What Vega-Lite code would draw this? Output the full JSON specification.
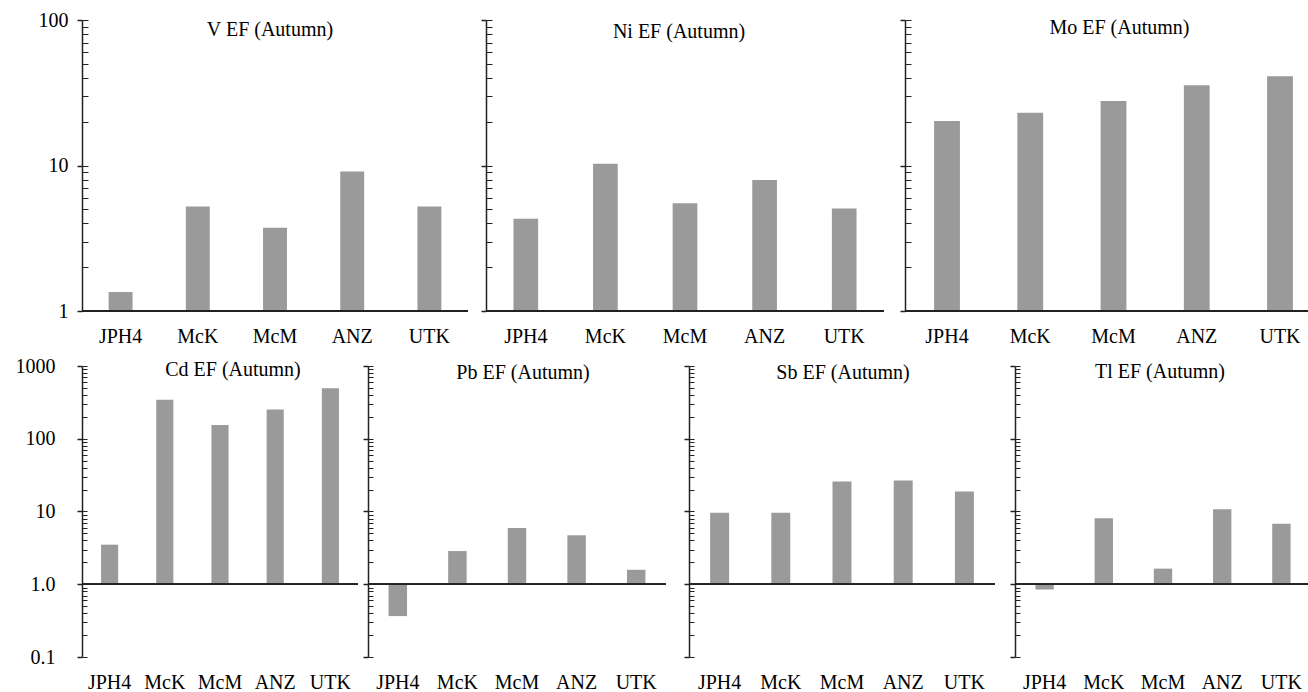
{
  "$schema": "https://vega.github.io/schema/vega-lite/v6.json",
  "padding": {"left": 0, "right": 0, "top": 10, "bottom": 0},
  "background": "white",
  "spacing": 10,
  "datasets": {
    "ef": [
      {"element": "V", "site": "JPH4", "ef": 1.35},
      {"element": "V", "site": "McK", "ef": 5.22},
      {"element": "V", "site": "McM", "ef": 3.74},
      {"element": "V", "site": "ANZ", "ef": 9.08},
      {"element": "V", "site": "UTK", "ef": 5.22},
      {"element": "Ni", "site": "JPH4", "ef": 4.31},
      {"element": "Ni", "site": "McK", "ef": 10.3},
      {"element": "Ni", "site": "McM", "ef": 5.5},
      {"element": "Ni", "site": "ANZ", "ef": 7.95},
      {"element": "Ni", "site": "UTK", "ef": 5.06},
      {"element": "Mo", "site": "JPH4", "ef": 20.2},
      {"element": "Mo", "site": "McK", "ef": 23.0},
      {"element": "Mo", "site": "McM", "ef": 27.8},
      {"element": "Mo", "site": "ANZ", "ef": 35.6},
      {"element": "Mo", "site": "UTK", "ef": 41.1},
      {"element": "Cd", "site": "JPH4", "ef": 3.5},
      {"element": "Cd", "site": "McK", "ef": 344},
      {"element": "Cd", "site": "McM", "ef": 154},
      {"element": "Cd", "site": "ANZ", "ef": 253},
      {"element": "Cd", "site": "UTK", "ef": 493},
      {"element": "Pb", "site": "JPH4", "ef": 0.365},
      {"element": "Pb", "site": "McK", "ef": 2.86},
      {"element": "Pb", "site": "McM", "ef": 5.95},
      {"element": "Pb", "site": "ANZ", "ef": 4.71},
      {"element": "Pb", "site": "UTK", "ef": 1.58},
      {"element": "Sb", "site": "JPH4", "ef": 9.58},
      {"element": "Sb", "site": "McK", "ef": 9.58},
      {"element": "Sb", "site": "McM", "ef": 25.8},
      {"element": "Sb", "site": "ANZ", "ef": 26.7},
      {"element": "Sb", "site": "UTK", "ef": 18.8},
      {"element": "Tl", "site": "JPH4", "ef": 0.85},
      {"element": "Tl", "site": "McK", "ef": 8.07},
      {"element": "Tl", "site": "McM", "ef": 1.64},
      {"element": "Tl", "site": "ANZ", "ef": 10.7},
      {"element": "Tl", "site": "UTK", "ef": 6.8}
    ]
  },
  "config": {
    "view": {"stroke": null},
    "axis": {"labelFont": "Liberation Serif", "labelFontSize": 20, "labelColor": "#000", "domainColor": "#222", "tickColor": "#222", "grid": false, "labelOverlap": false},
    "title": {"font": "Liberation Serif", "fontSize": 20, "fontWeight": "normal", "color": "#000", "anchor": "middle", "frame": "group", "baseline": "alphabetic"}
  },
  "vconcat": [
    {
      "spacing": 0,
      "hconcat": [
        {
          "width": 386, "height": 291,
          "title": {"text": "V EF (Autumn)", "offset": -30, "dx": -5},
          "data": {"name": "ef"},
          "transform": [{"filter": "datum.element === 'V'"}],
          "layer": [
            {"mark": {"type": "bar", "color": "#9a9a9a"},
             "encoding": {
               "x": {"field": "site", "type": "nominal", "sort": ["JPH4", "McK", "McM", "ANZ", "UTK"], "scale": {"paddingInner": 0.69, "paddingOuter": 0.345}, "axis": {"title": null, "domain": false, "ticks": false, "labelAngle": 0, "labelPadding": 15}},
               "y": {"field": "ef", "type": "quantitative", "scale": {"type": "log", "domain": [1, 100], "nice": false}, "axis": {"orient": "left", "title": null, "values": [1, 10, 100], "format": "d", "tickSize": 5, "tickWidth": 1.5, "domainWidth": 1.5, "labelPadding": 9, "minExtent": 82, "maxExtent": 82}},
               "y2": {"datum": 1}
             }},
            {"mark": {"type": "rule", "color": "#222", "strokeWidth": 1.5},
             "encoding": {
               "y": {"datum": 1, "type": "quantitative", "scale": {"type": "log", "domain": [1, 100], "nice": false}, "axis": {"orient": "left", "title": null, "values": [1, 2, 3, 4, 5, 6, 7, 8, 9, 10, 20, 30, 40, 50, 60, 70, 80, 90, 100], "tickSize": -6, "tickWidth": 1, "labels": false, "domain": false, "minExtent": 0, "maxExtent": 0}}
             }}
          ],
          "resolve": {"axis": {"y": "independent"}}
        },
        {
          "width": 398, "height": 291,
          "title": {"text": "Ni EF (Autumn)", "offset": -23, "dx": -6},
          "data": {"name": "ef"},
          "transform": [{"filter": "datum.element === 'Ni'"}],
          "layer": [
            {"mark": {"type": "bar", "color": "#9a9a9a"},
             "encoding": {
               "x": {"field": "site", "type": "nominal", "sort": ["JPH4", "McK", "McM", "ANZ", "UTK"], "scale": {"paddingInner": 0.69, "paddingOuter": 0.345}, "axis": {"title": null, "domain": false, "ticks": false, "labelAngle": 0, "labelPadding": 15}},
               "y": {"field": "ef", "type": "quantitative", "scale": {"type": "log", "domain": [1, 100], "nice": false}, "axis": {"orient": "left", "title": null, "values": [1, 10, 100], "labels": false, "tickSize": 5, "tickWidth": 1.5, "domainWidth": 1.5, "minExtent": 17, "maxExtent": 17}},
               "y2": {"datum": 1}
             }},
            {"mark": {"type": "rule", "color": "#222", "strokeWidth": 1.5},
             "encoding": {
               "y": {"datum": 1, "type": "quantitative", "scale": {"type": "log", "domain": [1, 100], "nice": false}, "axis": {"orient": "left", "title": null, "values": [1, 2, 3, 4, 5, 6, 7, 8, 9, 10, 20, 30, 40, 50, 60, 70, 80, 90, 100], "tickSize": -6, "tickWidth": 1, "labels": false, "domain": false, "minExtent": 0, "maxExtent": 0}}
             }}
          ],
          "resolve": {"axis": {"y": "independent"}}
        },
        {
          "width": 405, "height": 291,
          "title": {"text": "Mo EF (Autumn)", "offset": -19, "dx": 12},
          "data": {"name": "ef"},
          "transform": [{"filter": "datum.element === 'Mo'"}],
          "layer": [
            {"mark": {"type": "bar", "color": "#9a9a9a"},
             "encoding": {
               "x": {"field": "site", "type": "nominal", "sort": ["JPH4", "McK", "McM", "ANZ", "UTK"], "scale": {"paddingInner": 0.69, "paddingOuter": 0.2775, "align": 0.63}, "axis": {"title": null, "domain": false, "ticks": false, "labelAngle": 0, "labelPadding": 15}},
               "y": {"field": "ef", "type": "quantitative", "scale": {"type": "log", "domain": [1, 100], "nice": false}, "axis": {"orient": "left", "title": null, "values": [1, 10, 100], "labels": false, "tickSize": 5, "tickWidth": 1.5, "domainWidth": 1.5, "minExtent": 20, "maxExtent": 20}},
               "y2": {"datum": 1}
             }},
            {"mark": {"type": "rule", "color": "#222", "strokeWidth": 1.5},
             "encoding": {
               "y": {"datum": 1, "type": "quantitative", "scale": {"type": "log", "domain": [1, 100], "nice": false}, "axis": {"orient": "left", "title": null, "values": [1, 2, 3, 4, 5, 6, 7, 8, 9, 10, 20, 30, 40, 50, 60, 70, 80, 90, 100], "tickSize": -6, "tickWidth": 1, "labels": false, "domain": false, "minExtent": 0, "maxExtent": 0}}
             }}
          ],
          "resolve": {"axis": {"y": "independent"}}
        }
      ]
    },
    {
      "spacing": 0,
      "hconcat": [
        {
          "width": 276, "height": 291,
          "title": {"text": "Cd EF (Autumn)", "offset": -24, "dx": 13},
          "data": {"name": "ef"},
          "transform": [{"filter": "datum.element === 'Cd'"}],
          "layer": [
            {"mark": {"type": "bar", "color": "#9a9a9a"},
             "encoding": {
               "x": {"field": "site", "type": "nominal", "sort": ["JPH4", "McK", "McM", "ANZ", "UTK"], "scale": {"paddingInner": 0.69, "paddingOuter": 0.345}, "axis": {"title": null, "domain": false, "ticks": false, "labelAngle": 0, "labelPadding": 15}},
               "y": {"field": "ef", "type": "quantitative", "scale": {"type": "log", "domain": [0.1, 1000], "nice": false}, "axis": {"orient": "left", "title": null, "values": [0.1, 1, 10, 100, 1000], "labelExpr": "datum.value >= 10 ? format(datum.value, 'd') : format(datum.value, '.1f')", "tickSize": 5, "tickWidth": 1.5, "domainWidth": 1.5, "labelPadding": 22, "minExtent": 82, "maxExtent": 82}},
               "y2": {"datum": 1}
             }},
            {"mark": {"type": "rule", "color": "#222", "strokeWidth": 1.5},
             "encoding": {
               "y": {"datum": 1, "type": "quantitative", "scale": {"type": "log", "domain": [0.1, 1000], "nice": false}, "axis": {"orient": "left", "title": null, "values": [0.1, 0.2, 0.3, 0.4, 0.5, 0.6, 0.7, 0.8, 0.9, 1, 2, 3, 4, 5, 6, 7, 8, 9, 10, 20, 30, 40, 50, 60, 70, 80, 90, 100, 200, 300, 400, 500, 600, 700, 800, 900, 1000], "tickSize": -5, "tickWidth": 1, "labels": false, "domain": false, "minExtent": 0, "maxExtent": 0}}
             }}
          ],
          "resolve": {"axis": {"y": "independent"}}
        },
        {
          "width": 298, "height": 291,
          "title": {"text": "Pb EF (Autumn)", "offset": -18, "dx": 6},
          "data": {"name": "ef"},
          "transform": [{"filter": "datum.element === 'Pb'"}],
          "layer": [
            {"mark": {"type": "bar", "color": "#9a9a9a"},
             "encoding": {
               "x": {"field": "site", "type": "nominal", "sort": ["JPH4", "McK", "McM", "ANZ", "UTK"], "scale": {"paddingInner": 0.69, "paddingOuter": 0.345}, "axis": {"title": null, "domain": false, "ticks": false, "labelAngle": 0, "labelPadding": 15}},
               "y": {"field": "ef", "type": "quantitative", "scale": {"type": "log", "domain": [0.1, 1000], "nice": false}, "axis": {"orient": "left", "title": null, "values": [0.1, 1, 10, 100, 1000], "labels": false, "tickSize": 5, "tickWidth": 1.5, "domainWidth": 1.5, "minExtent": 9, "maxExtent": 9}},
               "y2": {"datum": 1}
             }},
            {"mark": {"type": "rule", "color": "#222", "strokeWidth": 1.5},
             "encoding": {
               "y": {"datum": 1, "type": "quantitative", "scale": {"type": "log", "domain": [0.1, 1000], "nice": false}, "axis": {"orient": "left", "title": null, "values": [0.1, 0.2, 0.3, 0.4, 0.5, 0.6, 0.7, 0.8, 0.9, 1, 2, 3, 4, 5, 6, 7, 8, 9, 10, 20, 30, 40, 50, 60, 70, 80, 90, 100, 200, 300, 400, 500, 600, 700, 800, 900, 1000], "tickSize": -5, "tickWidth": 1, "labels": false, "domain": false, "minExtent": 0, "maxExtent": 0}}
             }}
          ],
          "resolve": {"axis": {"y": "independent"}}
        },
        {
          "width": 306, "height": 291,
          "title": {"text": "Sb EF (Autumn)", "offset": -18, "dx": 1},
          "data": {"name": "ef"},
          "transform": [{"filter": "datum.element === 'Sb'"}],
          "layer": [
            {"mark": {"type": "bar", "color": "#9a9a9a"},
             "encoding": {
               "x": {"field": "site", "type": "nominal", "sort": ["JPH4", "McK", "McM", "ANZ", "UTK"], "scale": {"paddingInner": 0.69, "paddingOuter": 0.345}, "axis": {"title": null, "domain": false, "ticks": false, "labelAngle": 0, "labelPadding": 15}},
               "y": {"field": "ef", "type": "quantitative", "scale": {"type": "log", "domain": [0.1, 1000], "nice": false}, "axis": {"orient": "left", "title": null, "values": [0.1, 1, 10, 100, 1000], "labels": false, "tickSize": 5, "tickWidth": 1.5, "domainWidth": 1.5, "minExtent": 22, "maxExtent": 22}},
               "y2": {"datum": 1}
             }},
            {"mark": {"type": "rule", "color": "#222", "strokeWidth": 1.5},
             "encoding": {
               "y": {"datum": 1, "type": "quantitative", "scale": {"type": "log", "domain": [0.1, 1000], "nice": false}, "axis": {"orient": "left", "title": null, "values": [0.1, 0.2, 0.3, 0.4, 0.5, 0.6, 0.7, 0.8, 0.9, 1, 2, 3, 4, 5, 6, 7, 8, 9, 10, 20, 30, 40, 50, 60, 70, 80, 90, 100, 200, 300, 400, 500, 600, 700, 800, 900, 1000], "tickSize": -5, "tickWidth": 1, "labels": false, "domain": false, "minExtent": 0, "maxExtent": 0}}
             }}
          ],
          "resolve": {"axis": {"y": "independent"}}
        },
        {
          "width": 296, "height": 291,
          "title": {"text": "Tl EF (Autumn)", "offset": -17, "dx": -3},
          "data": {"name": "ef"},
          "transform": [{"filter": "datum.element === 'Tl'"}],
          "layer": [
            {"mark": {"type": "bar", "color": "#9a9a9a"},
             "encoding": {
               "x": {"field": "site", "type": "nominal", "sort": ["JPH4", "McK", "McM", "ANZ", "UTK"], "scale": {"paddingInner": 0.69, "paddingOuter": 0.345}, "axis": {"title": null, "domain": false, "ticks": false, "labelAngle": 0, "labelPadding": 15}},
               "y": {"field": "ef", "type": "quantitative", "scale": {"type": "log", "domain": [0.1, 1000], "nice": false}, "axis": {"orient": "left", "title": null, "values": [0.1, 1, 10, 100, 1000], "labels": false, "tickSize": 5, "tickWidth": 1.5, "domainWidth": 1.5, "minExtent": 19, "maxExtent": 19}},
               "y2": {"datum": 1}
             }},
            {"mark": {"type": "rule", "color": "#222", "strokeWidth": 1.5},
             "encoding": {
               "y": {"datum": 1, "type": "quantitative", "scale": {"type": "log", "domain": [0.1, 1000], "nice": false}, "axis": {"orient": "left", "title": null, "values": [0.1, 0.2, 0.3, 0.4, 0.5, 0.6, 0.7, 0.8, 0.9, 1, 2, 3, 4, 5, 6, 7, 8, 9, 10, 20, 30, 40, 50, 60, 70, 80, 90, 100, 200, 300, 400, 500, 600, 700, 800, 900, 1000], "tickSize": -5, "tickWidth": 1, "labels": false, "domain": false, "minExtent": 0, "maxExtent": 0}}
             }}
          ],
          "resolve": {"axis": {"y": "independent"}}
        }
      ]
    }
  ]
}
